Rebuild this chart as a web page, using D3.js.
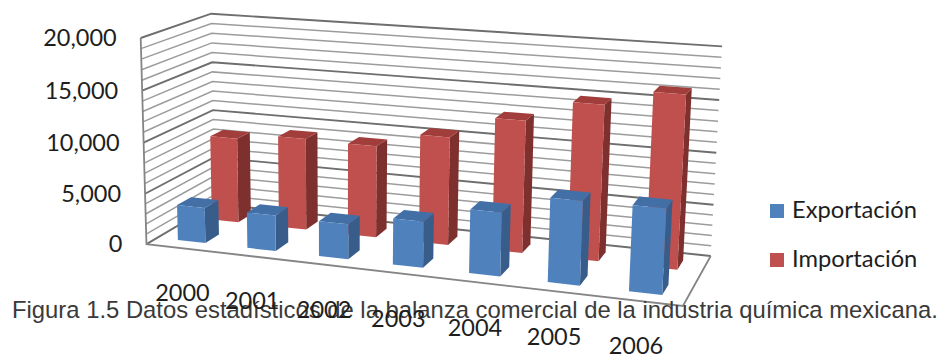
<!DOCTYPE html>
<html>
<head>
<meta charset="utf-8">
<script src="https://cdn.jsdelivr.net/npm/d3@7"></script>
<style>
  html, body { margin: 0; padding: 0; background: #fff; }
  svg { display: block; }
</style>
</head>
<body>
<svg id="chart" width="943" height="356"></svg>
<script>
// Balanza comercial de la industria química mexicana (millones de dólares)
const years = ["2000", "2001", "2002", "2003", "2004", "2005", "2006"];
const seriesNames = ["Exportación", "Importación"];
const exportacion = [3500, 3500, 3400, 4400, 6000, 7800, 7850];
const importacion = [8600, 9200, 9100, 10600, 12800, 14900, 16400];
const yTicks = [0, 5000, 10000, 15000, 20000];
const colors = {
  "Exportación": { front: "#4F81BD", side: "#385D8A", top: "#416FA6" },
  "Importación": { front: "#C0504D", side: "#7E302E", top: "#A13E3B" }
};

const svg = d3.select("#chart");

// ---- 3D box → screen camera (unit cube: x = categories, y = value, z = depth) ----
// Screen positions of the plot box corners and a couple of wall gridline ends.
const anchors = [
  [[0, 0, 0], [148, 245]],
  [[0, 1, 0], [139, 38]],
  [[0, 1, 1], [213, 14]],
  [[0, 0, 1], [213, 203]],
  [[1, 1, 1], [722, 46]],
  [[1, 0, 1], [711, 257]],
  [[1, 0, 0], [683, 305]],
  [[0, 0.5, 1], [213, 110]],
  [[1, 0.5, 1], [716, 153]]
];

function solve(A, b) {
  const n = b.length;
  const M = A.map((r, i) => r.concat([b[i]]));
  for (let c = 0; c < n; c++) {
    let p = c;
    for (let r = c + 1; r < n; r++) if (Math.abs(M[r][c]) > Math.abs(M[p][c])) p = r;
    [M[c], M[p]] = [M[p], M[c]];
    for (let r = 0; r < n; r++) {
      if (r === c) continue;
      const f = M[r][c] / M[c][c];
      for (let k = c; k <= n; k++) M[r][k] -= f * M[c][k];
    }
  }
  return M.map((r, i) => r[n] / r[i]);
}

function fitCamera(pairs) {
  const S = 1000;
  const rows = [], rhs = [];
  pairs.forEach(([[X, Y, Z], [u0, v0]]) => {
    const u = u0 / S, v = v0 / S;
    rows.push([X, Y, Z, 1, 0, 0, 0, 0, -u * X, -u * Y, -u * Z]); rhs.push(u);
    rows.push([0, 0, 0, 0, X, Y, Z, 1, -v * X, -v * Y, -v * Z]); rhs.push(v);
  });
  const n = 11;
  const AtA = d3.range(n).map(i => d3.range(n).map(j => d3.sum(rows, r => r[i] * r[j])));
  const Atb = d3.range(n).map(i => d3.sum(rows, (r, k) => r[i] * rhs[k]));
  const p = solve(AtA, Atb);
  return ([X, Y, Z]) => {
    const w = p[8] * X + p[9] * Y + p[10] * Z + 1;
    return [S * (p[0] * X + p[1] * Y + p[2] * Z + p[3]) / w,
            S * (p[4] * X + p[5] * Y + p[6] * Z + p[7]) / w];
  };
}
const project = fitCamera(anchors);

// ---- scales ----
const x = d3.scaleBand().domain(years).range([0, 1]).paddingInner(0.6).paddingOuter(0.3);
const z = d3.scaleBand().domain(seriesNames).range([0, 1]).paddingInner(0.6).paddingOuter(0.3);
const y = d3.scaleLinear().domain([0, 20000]).range([0, 1]);

const line = d3.line();
const poly = pts => line(pts.map(project)) + "Z";

// ---- walls and gridlines ----
const walls = svg.append("g").attr("fill", "none");
y.ticks(20).forEach(v => {
  const major = v % 5000 === 0;
  const Y = y(v);
  walls.append("path")
    .attr("d", line([[0, Y, 0], [0, Y, 1], [1, Y, 1]].map(project)))
    .attr("stroke", major ? "#6e6e6e" : "#9c9c9c")
    .attr("stroke-width", major ? 1.9 : 1.5);
});
// vertical axis edge and floor outline
walls.append("path")
  .attr("d", line([[0, 1, 0], [0, 0, 0], [1, 0, 0], [1, 0, 1]].map(project)))
  .attr("stroke", "#858585").attr("stroke-width", 1.8);

// ---- value axis labels ----
const yAxis = svg.append("g")
  .attr("font-family", "Lato, 'Open Sans', sans-serif")
  .attr("font-size", 23.5).attr("fill", "#1e1e1e").attr("text-anchor", "end");
yTicks.forEach(v => {
  const [px, py] = project([0, y(v), 0]);
  yAxis.append("text").attr("x", px - 24).attr("y", py).attr("dy", "0.35em")
    .text(d3.format(",")(v));
});

// ---- bars ----
const data = seriesNames.map((s, si) => ({
  name: s,
  values: years.map((yr, i) => ({ year: yr, value: (si === 0 ? exportacion : importacion)[i] }))
}));
const barsG = svg.append("g");
// back row first, left to right, so nearer faces paint over farther ones
[...data].reverse().forEach(series => {
  const c = colors[series.name];
  const z0 = z(series.name), z1 = z0 + z.bandwidth();
  series.values.forEach(d => {
    const x0 = x(d.year), x1 = x0 + x.bandwidth();
    const h = y(d.value);
    const g = barsG.append("g");
    g.append("path").attr("d", poly([[x1, 0, z0], [x1, 0, z1], [x1, h, z1], [x1, h, z0]])).attr("fill", c.side);
    g.append("path").attr("d", poly([[x0, h, z0], [x1, h, z0], [x1, h, z1], [x0, h, z1]])).attr("fill", c.top);
    g.append("path").attr("d", poly([[x0, 0, z0], [x1, 0, z0], [x1, h, z0], [x0, h, z0]])).attr("fill", c.front);
  });
});

// ---- caption ----
const caption = svg.append("text")
  .attr("x", 12).attr("y", 318)
  .attr("font-family", "'Liberation Sans', Arial, sans-serif")
  .attr("font-size", 23).attr("fill", "#3a3a3a")
  .text("Figura 1.5 Datos estadísticos de la balanza comercial de la industria química mexicana.");
const capW = caption.node().getComputedTextLength();
caption.attr("font-size", 23 * 926 / capW);

// ---- category labels ----
const xAxis = svg.append("g")
  .attr("font-family", "Lato, 'Open Sans', sans-serif")
  .attr("font-size", 23.5).attr("fill", "#1e1e1e").attr("text-anchor", "middle");
years.forEach(yr => {
  const xc = x(yr) + x.bandwidth() / 2;
  const [px, py] = project([xc, 0, 0]);
  xAxis.append("text").attr("x", px + 2 - 7 * xc).attr("y", py + 45).attr("dy", "0.35em").text(yr);
});

// ---- legend ----
const legend = svg.append("g")
  .attr("font-family", "Lato, 'Open Sans', sans-serif")
  .attr("font-size", 21).attr("fill", "#1e1e1e");
seriesNames.forEach((s, i) => {
  const gy = 204 + i * 49;
  legend.append("rect").attr("x", 770).attr("y", gy).attr("width", 14).attr("height", 14)
    .attr("fill", colors[s].front);
  legend.append("text").attr("x", 792).attr("y", gy + 14).text(s);
});
// size legend type so "Exportación" spans its slot
const legW = legend.select("text").node().getComputedTextLength();
legend.attr("font-size", 21 * 125 / legW);
</script>
</body>
</html>
